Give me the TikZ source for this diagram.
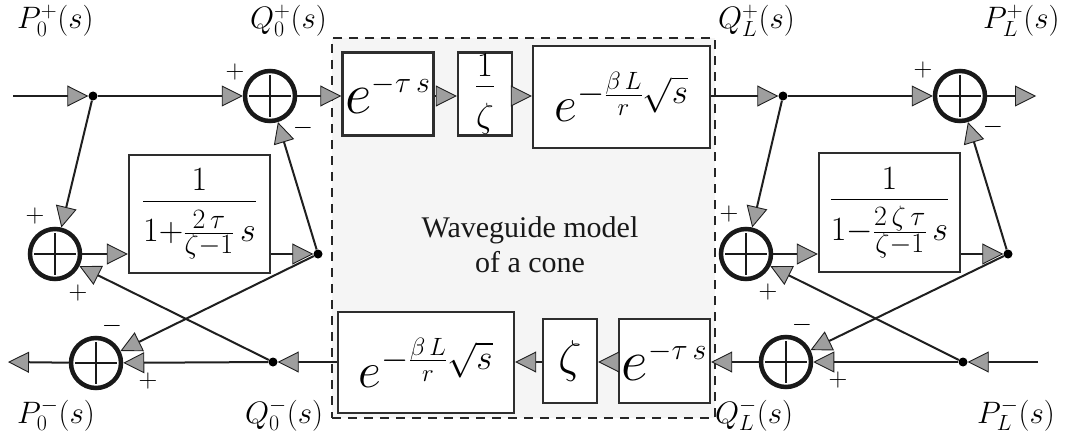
\RequirePackage{fix-cm}
\documentclass[tikz,border=0pt]{standalone}
\usepackage{fontspec}
\newfontfamily\wgfont{Liberation Serif}
\usetikzlibrary{arrows.meta}
\DeclareMathSizes{58}{58}{30}{22}
\DeclareMathSizes{70}{70}{35}{25}
\DeclareMathSizes{69}{69}{34}{28}
\DeclareMathSizes{50}{50}{35}{25}
\DeclareMathSizes{46}{46}{32}{23}
\DeclareMathSizes{31}{31}{22}{16}
\DeclareMathSizes{26}{26}{18}{13}
\tikzset{
  ln/.style={line width=2pt, draw=black!88},
  arr/.style={ln, -{Triangle[length=21pt,width=21pt,fill=black!38,line width=0.9pt]}},
  sumnode/.style={circle, draw=black!90, line width=4.5pt, minimum size=50pt, inner sep=0pt, fill=white,
    path picture={\draw[line width=2.6pt, black!90]
      ([xshift=4pt]path picture bounding box.west) -- ([xshift=-4pt]path picture bounding box.east)
      ([yshift=-4pt]path picture bounding box.north) -- ([yshift=4pt]path picture bounding box.south);}},
  blk/.style={draw=black!82, line width=2.4pt, fill=white, inner sep=0pt},
  expmath/.style={font=\fontsize{58}{60}\selectfont},
  zetamath/.style={font=\fontsize{70}{72}\selectfont},
  fracmath/.style={font=\fontsize{69}{71}\selectfont},
  midmath/.style={font=\fontsize{50}{52}\selectfont},
  dotnode/.style={circle, fill=black, inner sep=0pt, minimum size=9pt},
  sgn/.style={font=\fontsize{26}{26}\selectfont, inner sep=0pt},
  lbl/.style={font=\fontsize{31}{31}\selectfont, inner sep=0pt, anchor=base west},
  wgframe/.style={draw=black!85, line width=2.2pt, dash pattern=on 9pt off 7pt, fill=black!4, inner sep=0pt},
}
\begin{document}
\begin{tikzpicture}[x=1pt, y=-1pt]
\useasboundingbox (0,0) rectangle (1069,444);
% waveguide frame
\node[wgframe, minimum width=383pt, minimum height=380pt] (wg) at (523.5,228) {};
\node[font=\wgfont\fontsize{30}{35}\selectfont, align=center, text=black!90] (wgtxt) at (530,245) {Waveguide model\\of a cone};
% ends
\coordinate (inL) at (13,96);
\coordinate (outR) at (1036,96);
\coordinate (outL) at (8,362);
\coordinate (inBR) at (1038,362);
% dots
\node[dotnode] (dotTL) at (93,96) {};
\node[dotnode] (dotML) at (318,254) {};
\node[dotnode] (dotBL) at (273,362) {};
\node[dotnode] (dotTR) at (783,96) {};
\node[dotnode] (dotMR) at (1008,254) {};
\node[dotnode] (dotBR) at (963,362) {};
% sums
\node[sumnode] (sumQ0p) at (270,96) {};
\node[sumnode] (sumL) at (55,254) {};
\node[sumnode] (sumP0m) at (96,363) {};
\node[sumnode] (sumPLp) at (960,96) {};
\node[sumnode] (sumR) at (746,254) {};
\node[sumnode] (sumQLm) at (786,362) {};
% blocks
\node[blk, expmath, minimum width=91pt, minimum height=83pt] (bT1) at (388,94) {$e^{-\tau\, s}$};
\node[blk, zetamath, minimum width=54pt, minimum height=83pt] (bT2) at (485,94) {$\frac{1}{\zeta}$};
\node[blk, midmath, minimum width=177pt, minimum height=102pt] (bT3) at (621.5,97) {$e^{-\frac{\beta\, L}{r}\sqrt{s}}$};
\node[blk, fracmath, minimum width=141pt, minimum height=118pt] (bL) at (199.5,214) {$\frac{1}{1+\frac{2\,\tau}{\zeta-1}\,s}$};
\node[blk, fracmath, minimum width=141pt, minimum height=119pt] (bR) at (889.5,212.5) {$\frac{1}{1-\frac{2\,\zeta\,\tau}{\zeta-1}\,s}$};
\node[blk, midmath, minimum width=176pt, minimum height=101pt] (bB1) at (426,362.5) {$e^{-\frac{\beta\, L}{r}\sqrt{s}}$};
\node[blk, font=\fontsize{46}{48}\selectfont, minimum width=54pt, minimum height=84pt] (bB2) at (570,361) {$\zeta$};
\node[blk, expmath, minimum width=91pt, minimum height=84pt] (bB3) at (664.5,361) {$e^{-\tau\, s}$};
% signal labels
\node[lbl] (lP0p) at (17,29) {$P_0^+(s)$};
\node[lbl] (lQ0p) at (250,29) {$Q_0^+(s)$};
\node[lbl] (lQLp) at (718,29) {$Q_L^+(s)$};
\node[lbl] (lPLp) at (983,29) {$P_L^+(s)$};
\node[lbl] (lP0m) at (17,423) {$P_0^-(s)$};
\node[lbl] (lQ0m) at (245,423) {$Q_0^-(s)$};
\node[lbl] (lQLm) at (715,423) {$Q_L^-(s)$};
\node[lbl] (lPLm) at (977,423) {$P_L^-(s)$};
% signs
\node[sgn] (g1) at (235,72) {$+$};
\node[sgn] (g2) at (303,128) {$-$};
\node[sgn] (g3) at (35,216) {$+$};
\node[sgn] (g4) at (78,293) {$+$};
\node[sgn] (g5) at (112,326) {$-$};
\node[sgn] (g6) at (148,381) {$+$};
\node[sgn] (g7) at (923,70) {$+$};
\node[sgn] (g8) at (993,127) {$-$};
\node[sgn] (g9) at (729,214) {$+$};
\node[sgn] (g10) at (768,292) {$+$};
\node[sgn] (g11) at (802,325) {$-$};
\node[sgn] (g12) at (838,380) {$+$};
% connectors
\draw[arr] (inL) -- (dotTL);
\draw[arr] (dotTL) -- (sumQ0p);
\draw[arr] (sumQ0p) -- (sumQ0p -| bT1.west);
\draw[arr] (bT1.east |- sumQ0p) -- (bT2.west |- sumQ0p);
\draw[arr] (bT2.east |- sumQ0p) -- (bT3.west |- sumQ0p);
\draw[arr] (bT3.east |- dotTR) -- (dotTR);
\draw[arr] (dotTR) -- (sumPLp);
\draw[arr] (sumPLp) -- (outR);
\draw[arr] (dotTL) -- (sumL);
\draw[arr] (sumL) -- (sumL -| bL.west);
\draw[arr] (bL.east |- dotML) -- (dotML);
\draw[arr] (dotML) -- (sumQ0p);
\draw[arr] (dotML) -- (sumP0m);
\draw[arr] (dotBL) -- (sumL);
\draw[arr] (bB1.west |- dotBL) -- (dotBL);
\draw[arr] (dotBL) -- (sumP0m);
\draw[arr] (sumP0m) -- (outL);
\draw[arr] (bB2.west |- dotBL) -- (bB1.east |- dotBL);
\draw[arr] (bB3.west |- dotBL) -- (bB2.east |- dotBL);
\draw[arr] (sumQLm) -- (sumQLm -| bB3.east);
\draw[arr] (inBR) -- (dotBR);
\draw[arr] (dotBR) -- (sumQLm);
\draw[arr] (dotBR) -- (sumR);
\draw[arr] (dotTR) -- (sumR);
\draw[arr] (sumR) -- (sumR -| bR.west);
\draw[arr] (bR.east |- dotMR) -- (dotMR);
\draw[arr] (dotMR) -- (sumPLp);
\draw[arr] (dotMR) -- (sumQLm);
\end{tikzpicture}
\end{document}
